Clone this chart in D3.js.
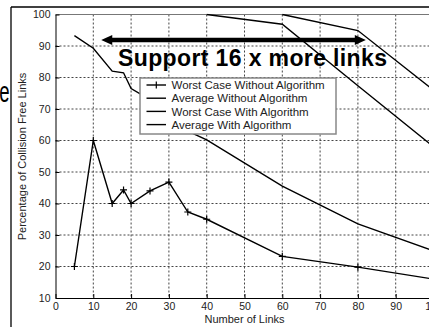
<!DOCTYPE html>
<html>
<head>
<meta charset="utf-8">
<script src="https://cdn.jsdelivr.net/npm/d3@7"></script>
<style>
  body { margin: 0; background: #fff; }
  text { font-family: "Liberation Sans", Arial, sans-serif; }
</style>
</head>
<body>
<div id="chart"></div>
<script>
// Number of links on the x axis
var xLinks = [5, 10, 15, 18, 20, 25, 30, 35, 40, 60, 80, 100];
var worstWithout = [20, 60, 40, 44.3, 40, 44, 46.8, 37.3, 35, 23.2, 19.8, 16];
var avgWithout = [93.3, 89.3, 82, 81.5, 76.5, 73, 68, 63, 60.2, 45.5, 33.5, 25];

var xWorstWith = [40, 60, 80, 100];
var worstWith = [100, 96.9, 77.4, 58];

var xAvgWith = [60, 80, 100];
var avgWith = [100, 94.9, 76];

var xTicks = [0, 10, 20, 30, 40, 50, 60, 70, 80, 90, 100];
var yTicks = [10, 20, 30, 40, 50, 60, 70, 80, 90, 100];

var legendNames = [
  "Worst Case Without Algorithm",
  "Average Without Algorithm",
  "Worst Case With Algorithm",
  "Average With Algorithm"
];

var svgWidth = 429;
var svgHeight = 327;

// plot box (right side runs off the picture)
var plot = { left: 55.5, top: 14.5, right: 433.5, bottom: 298 };

var svg = d3.select("#chart")
  .append("svg")
  .attr("width", svgWidth)
  .attr("height", svgHeight);

var xScale = d3.scaleLinear().domain([0, 100]).range([plot.left, plot.right]);
var yScale = d3.scaleLinear().domain([10, 100]).range([plot.bottom, plot.top]);

// outer frame
svg.append("line")
  .attr("x1", 11).attr("y1", 7).attr("x2", 11).attr("y2", svgHeight)
  .attr("stroke", "#000").attr("stroke-width", 1.3);
svg.append("line")
  .attr("x1", 11).attr("y1", 7).attr("x2", svgWidth).attr("y2", 7)
  .attr("stroke", "#000").attr("stroke-width", 1.3);

// big cut-off letter at the far left
svg.append("text")
  .attr("transform", "translate(-0.8, 101.5) scale(0.62, 1)")
  .attr("font-size", "30px")
  .attr("fill", "#000")
  .text("e");

// dotted grid
var grid = svg.append("g");
grid.selectAll(".vgrid")
  .data(xTicks.filter(d => d > 0))
  .join("line")
  .attr("x1", d => xScale(d)).attr("x2", d => xScale(d))
  .attr("y1", plot.top).attr("y2", plot.bottom)
  .attr("stroke", "#444").attr("stroke-width", 1)
  .attr("stroke-dasharray", "2,2");
grid.selectAll(".hgrid")
  .data(yTicks.filter(d => d > 10 && d < 100))
  .join("line")
  .attr("x1", plot.left).attr("x2", plot.right)
  .attr("y1", d => yScale(d)).attr("y2", d => yScale(d))
  .attr("stroke", "#444").attr("stroke-width", 1)
  .attr("stroke-dasharray", "2,2");

// top border of the box
svg.append("line")
  .attr("x1", plot.left).attr("x2", plot.right)
  .attr("y1", plot.top).attr("y2", plot.top)
  .attr("stroke", "#777").attr("stroke-width", 1);

// axes with inward ticks
var leftAxis = d3.axisLeft(yScale).tickValues(yTicks).tickSizeInner(-4).tickSizeOuter(0).tickPadding(5);
var bottomAxis = d3.axisBottom(xScale).tickValues(xTicks).tickSizeInner(-4).tickSizeOuter(0).tickPadding(5);

var gLeft = svg.append("g")
  .attr("transform", `translate(${plot.left}, 0)`)
  .call(leftAxis);
var gBottom = svg.append("g")
  .attr("transform", `translate(0, ${plot.bottom})`)
  .call(bottomAxis);

[gLeft, gBottom].forEach(g => {
  g.select(".domain").attr("stroke", "#000").attr("stroke-width", 1);
  g.selectAll(".tick line").attr("stroke", "#000");
  g.selectAll(".tick text")
    .attr("font-family", "Liberation Sans, Arial, sans-serif")
    .attr("font-size", "10.5px")
    .attr("fill", "#222");
});

// axis titles
svg.append("text")
  .attr("x", 244.5)
  .attr("y", 323)
  .attr("text-anchor", "middle")
  .attr("font-size", "11px")
  .attr("fill", "#222")
  .text("Number of Links");

svg.append("text")
  .attr("transform", "translate(26, 156.5) rotate(-90)")
  .attr("text-anchor", "middle")
  .attr("font-size", "11px")
  .attr("fill", "#222")
  .text("Percentage of Collision Free Links");

// series
svg.append("clipPath").attr("id", "plotClip")
  .append("rect")
  .attr("x", plot.left).attr("y", plot.top - 1)
  .attr("width", plot.right - plot.left).attr("height", plot.bottom - plot.top + 1);

var series = svg.append("g").attr("clip-path", "url(#plotClip)");

var line = d3.line()
  .x(d => xScale(d[0]))
  .y(d => yScale(d[1]));

var allSeries = [
  d3.zip(xLinks, worstWithout),
  d3.zip(xLinks, avgWithout),
  d3.zip(xWorstWith, worstWith),
  d3.zip(xAvgWith, avgWith)
];

series.selectAll(".series")
  .data(allSeries)
  .join("path")
  .attr("d", line)
  .attr("fill", "none")
  .attr("stroke", "#000")
  .attr("stroke-width", 1.4);

// plus markers on the worst case without algorithm
series.selectAll(".marker")
  .data(allSeries[0])
  .join("path")
  .attr("d", d => {
    var cx = xScale(d[0]), cy = yScale(d[1]);
    return `M${cx - 3.5},${cy}H${cx + 3.5}M${cx},${cy - 3.5}V${cy + 3.5}`;
  })
  .attr("stroke", "#000")
  .attr("stroke-width", 1.2);

// legend
var legend = svg.append("g");
legend.append("rect")
  .attr("x", 140).attr("y", 78)
  .attr("width", 196).attr("height", 56)
  .attr("fill", "#fff")
  .attr("stroke", "#888")
  .attr("stroke-width", 1.5);

var rows = legend.selectAll(".row")
  .data(legendNames)
  .join("g")
  .attr("transform", (d, i) => `translate(0, ${85 + i * 13.2})`);

rows.append("line")
  .attr("x1", 146.5).attr("x2", 166)
  .attr("stroke", "#000").attr("stroke-width", 1.4);

rows.filter((d, i) => i === 0)
  .append("line")
  .attr("x1", 156.3).attr("x2", 156.3)
  .attr("y1", -3.5).attr("y2", 3.5)
  .attr("stroke", "#000").attr("stroke-width", 1.2);

rows.append("text")
  .attr("x", 171.5)
  .attr("dy", "0.36em")
  .attr("font-size", "11.5px")
  .attr("fill", "#222")
  .text(d => d);

// double-headed arrow
var arrowY = 40;
var arrowLeft = xScale(12.1);
var arrowRight = xScale(82.1);
svg.append("line")
  .attr("x1", arrowLeft + 8).attr("x2", arrowRight - 8)
  .attr("y1", arrowY).attr("y2", arrowY)
  .attr("stroke", "#000").attr("stroke-width", 4.5);
svg.append("path")
  .attr("d", `M${arrowLeft},${arrowY}L${arrowLeft + 11},${arrowY - 5}L${arrowLeft + 11},${arrowY + 5}Z`)
  .attr("fill", "#000");
svg.append("path")
  .attr("d", `M${arrowRight},${arrowY}L${arrowRight - 11},${arrowY - 5}L${arrowRight - 11},${arrowY + 5}Z`)
  .attr("fill", "#000");

svg.append("text")
  .attr("x", 118)
  .attr("y", 66)
  .attr("font-size", "23px")
  .attr("font-weight", "bold")
  .attr("fill", "#000")
  .attr("textLength", 269)
  .attr("lengthAdjust", "spacing")
  .text("Support 16 x more links");
</script>
</body>
</html>
